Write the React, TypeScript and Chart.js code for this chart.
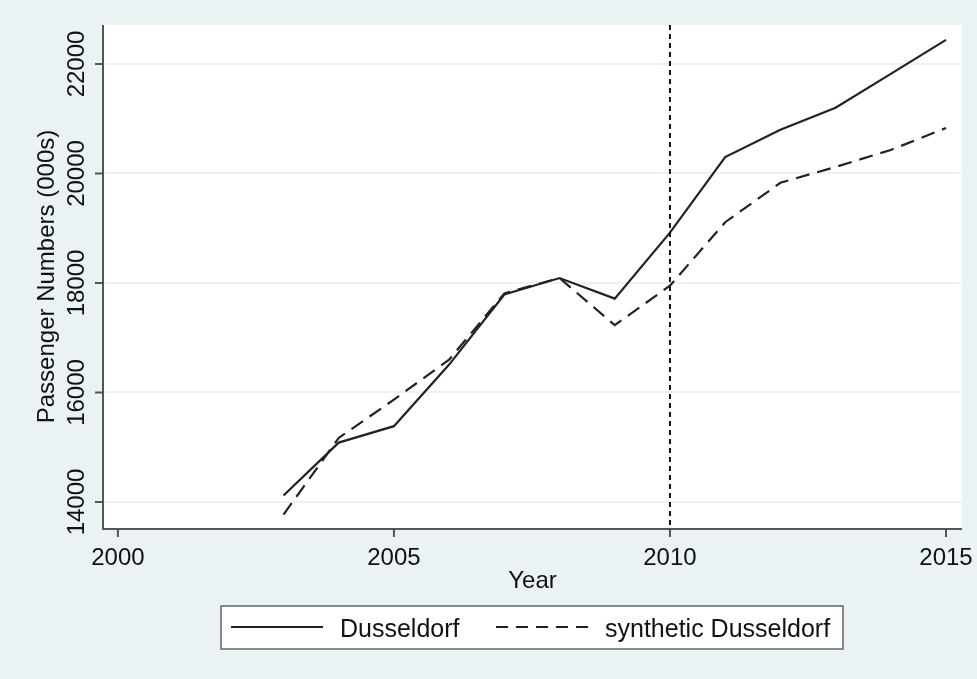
import React, { useEffect, useRef } from "react";
import { Chart, registerables } from "chart.js";

Chart.register(...registerables);

const years = [2003, 2004, 2005, 2006, 2007, 2008, 2009, 2010, 2011, 2012, 2013, 2014, 2015];
const dusseldorf = [14120, 15085, 15385, 16510, 17790, 18090, 17715, 18920, 20300, 20800, 21200, 21820, 22440];
const synthetic = [13770, 15170, 15870, 16600, 17810, 18090, 17230, 17950, 19110, 19830, 20120, 20430, 20830];
const xTicks = [2000, 2005, 2010, 2015];
const yTicks = [14000, 16000, 18000, 20000, 22000];
const treatmentYear = 2010;
const seriesNames = ["Dusseldorf", "synthetic Dusseldorf"];
const xTitle = "Year";
const yTitle = "Passenger Numbers (000s)";

const BG = "rgb(234,242,243)";
const AXIS = "#555555";
const FONT = '24px "Liberation Sans", Arial, sans-serif';
const LEGEND_FONT = '25px "Liberation Sans", Arial, sans-serif';

const decorPlugin = {
  id: "stataDecor",
  beforeDraw(chart: any) {
    const { ctx, chartArea } = chart;
    ctx.save();
    ctx.fillStyle = BG;
    ctx.fillRect(0, 0, chart.width, chart.height);
    ctx.fillStyle = "#ffffff";
    ctx.fillRect(chartArea.left, chartArea.top, chartArea.right - chartArea.left, chartArea.bottom - chartArea.top);
    ctx.restore();
  },
  afterDraw(chart: any) {
    const { ctx, chartArea } = chart;
    const xs = chart.scales.x;
    const ys = chart.scales.y;
    const { left, right, top, bottom } = chartArea;
    ctx.save();

    // vertical dotted line at treatment year
    const vx = xs.getPixelForValue(treatmentYear);
    ctx.strokeStyle = "#111111";
    ctx.lineWidth = 2;
    ctx.setLineDash([5, 4]);
    ctx.beginPath();
    ctx.moveTo(vx, top);
    ctx.lineTo(vx, bottom);
    ctx.stroke();
    ctx.setLineDash([]);

    // axis lines
    ctx.strokeStyle = AXIS;
    ctx.lineWidth = 2;
    ctx.beginPath();
    ctx.moveTo(left, top);
    ctx.lineTo(left, bottom + 1);
    ctx.lineTo(right, bottom + 1);
    ctx.stroke();

    ctx.fillStyle = "#111111";
    ctx.font = FONT;

    // y ticks & labels
    yTicks.forEach((v) => {
      const py = ys.getPixelForValue(v);
      ctx.beginPath();
      ctx.moveTo(left - 8, py);
      ctx.lineTo(left, py);
      ctx.stroke();
      ctx.save();
      ctx.translate(84, py);
      ctx.rotate(-Math.PI / 2);
      ctx.textAlign = "center";
      ctx.textBaseline = "alphabetic";
      ctx.fillText(String(v), 0, 0);
      ctx.restore();
    });

    // x ticks & labels
    xTicks.forEach((v) => {
      const px = xs.getPixelForValue(v);
      ctx.beginPath();
      ctx.moveTo(px, bottom);
      ctx.lineTo(px, bottom + 9);
      ctx.stroke();
      ctx.textAlign = "center";
      ctx.textBaseline = "alphabetic";
      ctx.fillText(String(v), px, 565);
    });

    // axis titles
    ctx.textAlign = "center";
    ctx.fillText(xTitle, (left + right) / 2, 588);
    ctx.save();
    ctx.translate(54, (top + bottom) / 2);
    ctx.rotate(-Math.PI / 2);
    ctx.fillText(yTitle, 0, 0);
    ctx.restore();

    // legend
    const bx = 221, by = 606, bw = 622, bh = 43;
    ctx.fillStyle = "#ffffff";
    ctx.fillRect(bx, by, bw, bh);
    ctx.strokeStyle = "#666666";
    ctx.lineWidth = 1.5;
    ctx.strokeRect(bx, by, bw, bh);
    const ly = 627;
    ctx.strokeStyle = "#222222";
    ctx.lineWidth = 2;
    ctx.beginPath();
    ctx.moveTo(231, ly);
    ctx.lineTo(323, ly);
    ctx.stroke();
    ctx.setLineDash([12, 8]);
    ctx.beginPath();
    ctx.moveTo(496, ly);
    ctx.lineTo(588, ly);
    ctx.stroke();
    ctx.setLineDash([]);
    ctx.fillStyle = "#111111";
    ctx.font = LEGEND_FONT;
    ctx.textAlign = "left";
    ctx.fillText(seriesNames[0], 340, 637);
    ctx.fillText(seriesNames[1], 605, 637);

    ctx.restore();
  },
};

export default function App() {
  const ref = useRef<HTMLCanvasElement | null>(null);
  useEffect(() => {
    if (!ref.current) return;
    const chart = new Chart(ref.current, {
      type: "line",
      data: {
        datasets: [
          {
            label: seriesNames[0],
            data: years.map((y, i) => ({ x: y, y: dusseldorf[i] })),
            borderColor: "#222222",
            borderWidth: 2.2,
            pointRadius: 0,
            tension: 0,
          },
          {
            label: seriesNames[1],
            data: years.map((y, i) => ({ x: y, y: synthetic[i] })),
            borderColor: "#222222",
            borderWidth: 2.2,
            borderDash: [14, 8],
            pointRadius: 0,
            tension: 0,
          },
        ],
      },
      options: {
        responsive: false,
        animation: false,
        layout: { padding: { left: 0, top: 25, right: 15, bottom: 0 } },
        plugins: { legend: { display: false }, tooltip: { enabled: false } },
        scales: {
          x: {
            type: "linear",
            min: 1999.73,
            max: 2015.29,
            grid: { display: false },
            border: { display: false },
            ticks: { display: false },
            afterFit: (s: any) => {
              s.height = 151;
            },
          },
          y: {
            type: "linear",
            min: 13525,
            max: 22712,
            afterBuildTicks: (s: any) => {
              s.ticks = yTicks.map((v) => ({ value: v }));
            },
            grid: { color: BG, lineWidth: 2, drawTicks: false },
            border: { display: false },
            ticks: { display: false },
            afterFit: (s: any) => {
              s.width = 103;
            },
          },
        },
      },
      plugins: [decorPlugin],
    });
    return () => chart.destroy();
  }, []);
  return (
    <div style={{ position: "fixed", left: 0, top: 0, width: 977, height: 679 }}>
      <canvas ref={ref} width={977} height={679} />
    </div>
  );
}
